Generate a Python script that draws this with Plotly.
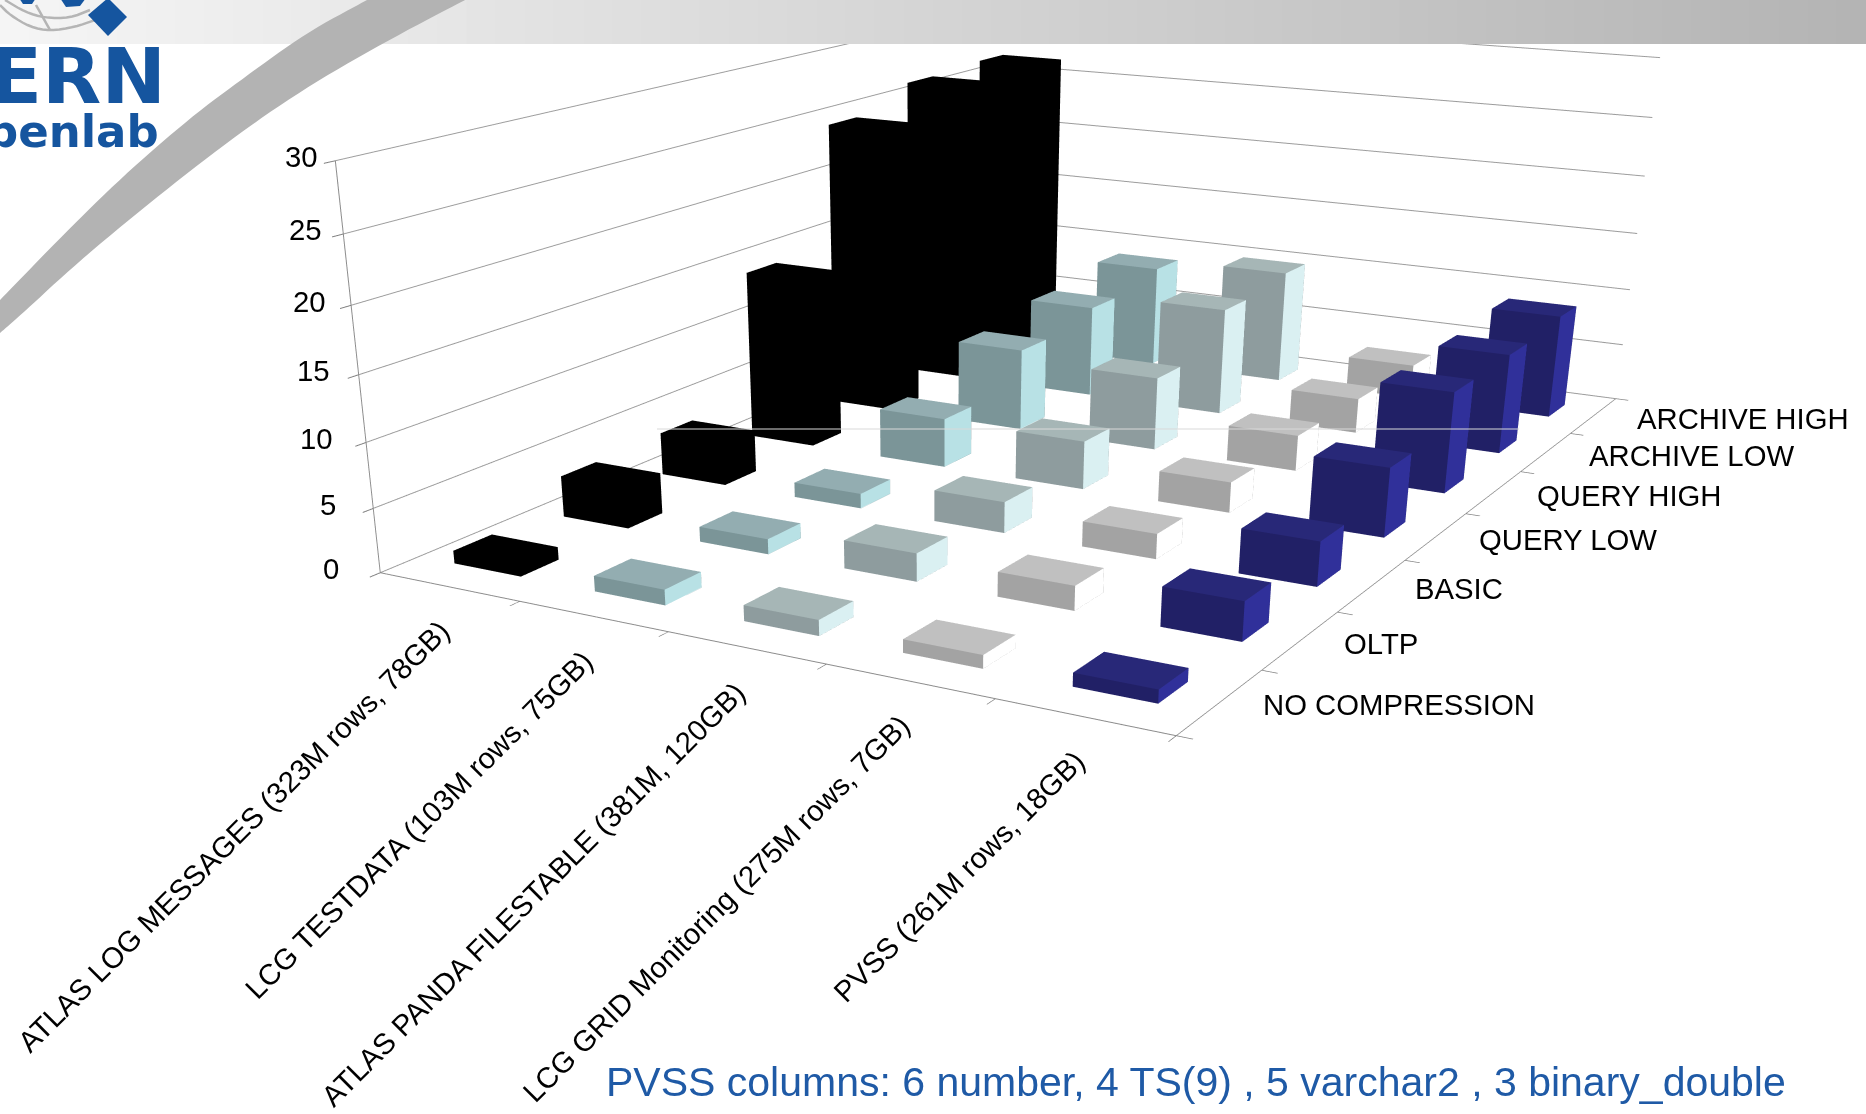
import plotly.graph_objects as go

PAGE_W = 1866
FIG_W, FIG_H = 1869, 2110  # tall canvas: gives the weak perspective of the 3D view

TABLES = ["ATLAS LOG MESSAGES (323M rows, 78GB)", "LCG TESTDATA (103M rows, 75GB)",
          "ATLAS PANDA FILESTABLE (381M, 120GB)", "LCG GRID Monitoring (275M rows, 7GB)",
          "PVSS (261M rows, 18GB)"]
LEVELS = ["NO COMPRESSION", "OLTP", "BASIC", "QUERY LOW", "QUERY HIGH", "ARCHIVE LOW", "ARCHIVE HIGH"]
Z_TICKS = [0, 5, 10, 15, 20, 25, 30]

atlas_log = [1, 3.3, 3.5, 14.2, 24.5, 26.3, 26.6]
lcg_testdata = [1.2, 1.2, 1.2, 4.1, 7, 8, 9]
atlas_panda = [1.2, 2.2, 2.5, 4, 6.2, 9.3, 10]
lcg_grid = [1, 1.9, 2, 2.5, 3, 3, 3]
pvss = [1, 3, 3.5, 5.6, 8.4, 8.5, 9]
SERIES = [atlas_log, lcg_testdata, atlas_panda, lcg_grid, pvss]

# face colours per series: front, top, right side
COLORS = [("#000000", "#000000", "#000000"), ("#7b9598", "#93adb1", "#b8e1e5"),
          ("#8e9c9e", "#a6b6b6", "#daf0f2"), ("#a3a3a3", "#c0c0c0", "#ffffff"),
          ("#212066", "#282878", "#30309a")]
BLUE = "#15559f"
BAR_X, BAR_Y = 0.48, 0.34

fx = lambda v: v / FIG_W
fy = lambda v: 1 - v / FIG_H


def box(x0, x1, y0, y1, z1):
    return [x0, x1, x1, x0, x0, x1, x1, x0], [y0, y0, y1, y1, y0, y0, y1, y1], [0, 0, 0, 0, z1, z1, z1, z1]


# triangles of a cuboid, last entry selects the face colour
TRI = [(0, 1, 5, 0), (0, 5, 4, 0), (1, 2, 6, 2), (1, 6, 5, 2), (4, 5, 6, 1), (4, 6, 7, 1), (2, 3, 7, 0),
       (2, 7, 6, 0), (3, 0, 4, 0), (3, 4, 7, 0), (0, 1, 2, 0), (0, 2, 3, 0)]

fig = go.Figure()
for ti, vals in enumerate(SERIES):
    X, Y, Z, I, J, K, FC = [], [], [], [], [], [], []
    for li, v in enumerate(vals):
        bx, by, bz = box(ti + .5 - BAR_X / 2, ti + .5 + BAR_X / 2, li + .5 - BAR_Y / 2, li + .5 + BAR_Y / 2, v)
        n = len(X)
        X += bx
        Y += by
        Z += bz
        for a, b, c, col in TRI:
            I.append(n + a)
            J.append(n + b)
            K.append(n + c)
            FC.append(COLORS[ti][col])
    fig.add_trace(go.Mesh3d(x=X, y=Y, z=Z, i=I, j=J, k=K, facecolor=FC, flatshading=True, hoverinfo="skip",
                            lighting=dict(ambient=1, diffuse=0, specular=0, fresnel=0, roughness=1)))

axis_style = dict(showbackground=False, showspikes=False, zeroline=False, showline=True, linecolor="#8c8c8c",
                  linewidth=2, ticks="outside", tickcolor="#808080", tickwidth=2, ticklen=12, title=dict(text=""))

LABEL = dict(family="Liberation Sans", size=29.3, color="#000")
scene_notes = []
for i, t in enumerate(TABLES):
    scene_notes.append(dict(x=i + .5, y=0, z=0, text=t, showarrow=False, textangle=-45, xanchor="right",
                            yanchor="top", xshift=9, yshift=-25, font=LABEL))
for i, t in enumerate(LEVELS):
    scene_notes.append(dict(x=5, y=i + .5, z=0, text=t, showarrow=False, xanchor="left", xshift=41, yshift=-3,
                            font=LABEL))
for v in Z_TICKS:
    scene_notes.append(dict(x=0, y=0, z=v, text=str(v), showarrow=False, xanchor="right",
                            xshift=-39 + 24 * v / 30, yshift=4, font=LABEL))


def smooth(points, rounds=3):
    # corner cutting, keeps the end points
    for _ in range(rounds):
        out = [points[0]]
        for (a, b), (c, d) in zip(points, points[1:]):
            out += [(.75 * a + .25 * c, .75 * b + .25 * d), (.25 * a + .75 * c, .25 * b + .75 * d)]
        points = out + [points[-1]]
    return points


def path(points, close=True):
    d = "M" + " L".join(f"{fx(a):.5f},{fy(b):.5f}" for a, b in points)
    return d + (" Z" if close else "")


def paper_shape(**kw):
    return dict(type="path", xref="paper", yref="paper", **kw)


# header band, light to mid gray
shapes = []
STEPS = 64
for k in range(STEPS):
    g = int(round(245 - 65 * k / (STEPS - 1)))
    shapes.append(dict(type="rect", xref="paper", yref="paper", x0=fx(PAGE_W * k / STEPS),
                       x1=fx(PAGE_W * (k + 1) / STEPS + 1), y0=fy(0), y1=fy(44),
                       fillcolor=f"rgb({g},{g},{g})", line=dict(width=0)))

# swoosh across the top-left corner
swoosh_upper = [(367, 0), (306, 33), (245, 77), (191, 117), (122, 177), (65, 233), (0, 300)]
swoosh_lower = [(0, 333), (23, 313), (77, 263), (153, 200), (230, 140), (302, 90), (383, 43), (465, 0)]
shapes.append(paper_shape(path=path(smooth(swoosh_upper) + smooth(swoosh_lower)), fillcolor="#b3b3b3",
                          line=dict(width=0)))

# globe of the logo
for arc in ([(0, 5), (10, 15), (30, 27), (50, 31), (75, 27), (95, 20)],
            [(5, 0), (25, 12), (45, 18), (70, 18), (90, 10)],
            [(36, 5), (50, 30)]):
    shapes.append(paper_shape(path=path(smooth(arc, 2), False), line=dict(color="#b5b5b5", width=2.5)))
for blob in ([(88, 15), (108, -2), (127, 17), (108, 36)], [(60, -2), (86, -2), (80, 6), (66, 7)],
             [(19, -2), (36, -2), (32, 4), (23, 4)]):
    shapes.append(paper_shape(path=path(blob), fillcolor=BLUE, line=dict(width=0)))

notes = [
    dict(xref="paper", yref="paper", x=fx(168), y=fy(77), xanchor="right", yanchor="middle", showarrow=False,
         text="<b>CERN</b>", font=dict(family="DejaVu Sans", size=77, color=BLUE)),
    dict(xref="paper", yref="paper", x=fx(161), y=fy(131), xanchor="right", yanchor="middle", showarrow=False,
         text="<b>openlab</b>", font=dict(family="DejaVu Sans", size=45, color=BLUE)),
    dict(xref="paper", yref="paper", x=fx(604), y=fy(1082), xanchor="left", yanchor="middle", showarrow=False,
         text="PVSS columns: 6 number, 4 TS(9) , 5 varchar2 , 3 binary_double",
         font=dict(family="Liberation Sans", size=41, color="#1f5aa6")),
    # thin light rule across the bars
    dict(xref="paper", yref="paper", x=fx(1519), y=fy(429), ax=-865, ay=0, text=" ", showarrow=True, arrowhead=0,
         arrowwidth=1, arrowcolor="#d9d9d9"),
]

fig.update_layout(
    width=FIG_W, height=FIG_H, margin=dict(l=0, r=0, t=0, b=0), showlegend=False, paper_bgcolor="white",
    shapes=shapes, annotations=notes,
    scene=dict(
        domain=dict(x=[0, 1], y=[0, 1]), aspectmode="manual", aspectratio=dict(x=2.2203, y=3.2321, z=1),
        camera=dict(eye=dict(x=3.2098, y=-6.3374, z=1.5604), center=dict(x=0.2676, y=-1.1937, z=-1.7224),
                    up=dict(x=0, y=0, z=1)),
        xaxis=dict(range=[0, len(TABLES)], tickvals=list(range(len(TABLES) + 1)), showticklabels=False,
                   showgrid=False, **axis_style),
        yaxis=dict(range=[0, len(LEVELS)], tickvals=list(range(len(LEVELS) + 1)), showticklabels=False,
                   showgrid=False, **axis_style),
        zaxis=dict(range=[0, 30], tickvals=Z_TICKS, showticklabels=False, showgrid=True, gridcolor="#9c9c9c",
                   gridwidth=2, **axis_style),
        annotations=scene_notes))

fig.write_html("out.html",
               post_script="document.documentElement.style.overflow='hidden';document.body.style.overflow='hidden';")
